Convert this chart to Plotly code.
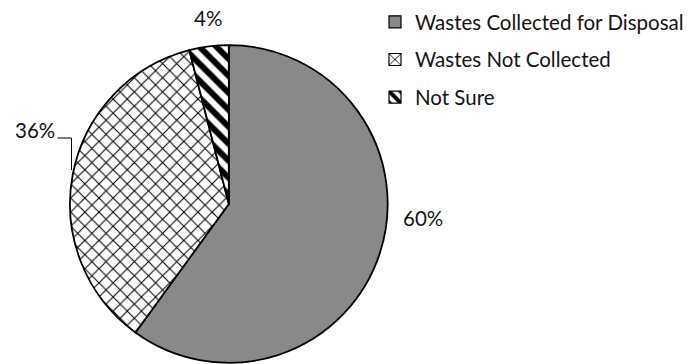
import plotly.graph_objects as go

categories = ["Wastes Collected for Disposal", "Wastes Not Collected", "Not Sure"]
values = [60, 36, 4]
pct_labels = [f"{v}%" for v in values]

W, H = 689, 364
FONT = "Lato"
TXT = "#141414"

fills = ["#898989", "white", "white"]
patterns = [
    dict(shape=""),
    dict(shape="x", size=10, solidity=0.2, fgcolor="black", bgcolor="white", fillmode="replace"),
    dict(shape="\\", size=12, solidity=0.5, fgcolor="black", bgcolor="white", fillmode="replace"),
]

fig = go.Figure()

# pie geometry (pixels)
cx, cy, r = 230.5, 204, 160
fig.add_trace(go.Pie(
    labels=categories, values=values, sort=False, direction="clockwise", rotation=0,
    textinfo="none", hoverinfo="label+percent", showlegend=False,
    marker=dict(colors=fills, pattern=dict(
        shape=[p.get("shape", "") for p in patterns],
        size=[p.get("size", 8) for p in patterns],
        solidity=[p.get("solidity", 0.3) for p in patterns],
        fgcolor="black", bgcolor=fills, fillmode="replace"),
        line=dict(color="black", width=1.8)),
    domain=dict(x=[(cx - r) / W, (cx + r) / W], y=[(H - cy - r) / H, (H - cy + r) / H]),
))

# legend entries
for name, col, pat in zip(categories, fills, patterns):
    fig.add_trace(go.Bar(
        x=[None], y=[None], name=name, legendgroup=name, showlegend=True,
        marker=dict(color=col, pattern=pat, line=dict(color="black", width=1.2)),
    ))

# percent labels (pixel centres)
label_pos = [(426, 218), (35, 130), (210, 18)]
for txt, (lx, ly) in zip(pct_labels, label_pos):
    fig.add_annotation(x=lx / W, y=1 - ly / H, xref="paper", yref="paper",
                       text=txt, showarrow=False, xanchor="center", yanchor="middle",
                       font=dict(family=FONT, size=20.5, color=TXT))

# leader line for 36%
pts = [(58, 138), (72, 138), (72, 170)]
path = "M " + " L ".join(f"{x / W},{1 - y / H}" for x, y in pts)
fig.add_shape(type="path", path=path, xref="paper", yref="paper",
              line=dict(color="black", width=1))

fig.update_layout(
    width=W, height=H, margin=dict(l=0, r=0, t=0, b=0),
    paper_bgcolor="white", plot_bgcolor="white",
    xaxis=dict(visible=False), yaxis=dict(visible=False),
    font=dict(family=FONT, color=TXT),
    legend=dict(x=378 / W, y=1 - 2 / H, xanchor="left", yanchor="top",
                traceorder="grouped", tracegroupgap=8,
                font=dict(family=FONT, size=20.5, color=TXT),
                bgcolor="rgba(0,0,0,0)"),
)

fig.write_html("out.html")
